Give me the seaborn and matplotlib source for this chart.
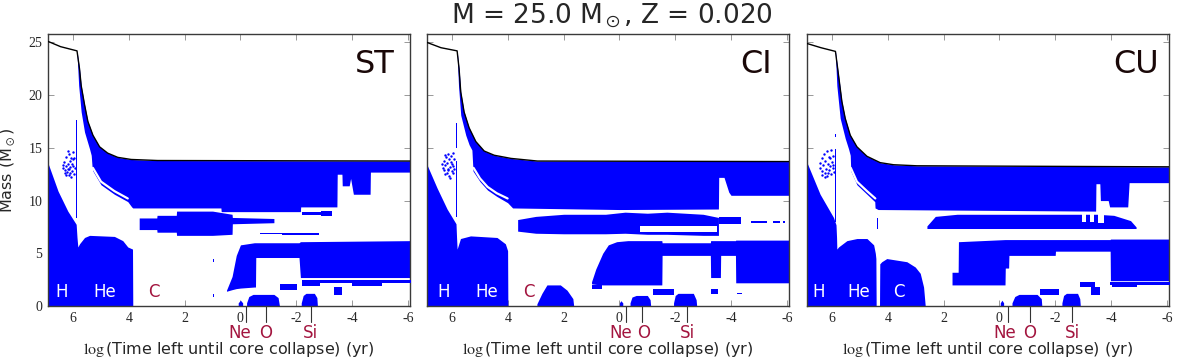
import numpy as np
import matplotlib
matplotlib.use('Agg')
import matplotlib.pyplot as plt
import seaborn as sns

BLUE = '#0000ff'
RED = '#a3153f'

# ---------------- ST model ----------------
st_surf_x = [6.9, 6.45, 5.86, 5.77, 5.71, 5.59, 5.47, 5.29, 5.05, 4.76, 4.4, 3.92, 2.97, -6.1]
st_surf_m = [25.1, 24.6, 24.2, 22.5, 20.9, 19.1, 17.5, 16.2, 15.1, 14.5, 14.1, 13.9, 13.8, 13.75]
st_env_x = [5.86, 5.8, 5.71, 5.59, 5.41, 5.35, 5.32, 5.29, 5.0, 4.52, 4.04, 3.9, 3.86, 0.7, 0.69,
            -2.15, -2.16, -3.46, -3.47, -3.64, -3.65, -3.9, -3.95, -4.05, -4.65, -4.66, -6.1]
st_env_lo = [24.0, 20.9, 18.4, 16.5, 14.9, 14.3, 13.2, 12.8, 11.5, 10.6, 9.9, 9.4, 9.3, 9.3, 8.95,
             8.95, 9.4, 9.4, 12.5, 12.5, 11.4, 11.4, 12.1, 10.6, 10.6, 12.7, 12.7]
st_gap_x = [5.29, 5.0, 4.52, 4.04]
st_gap_m = [13.1, 11.8, 10.9, 10.2]
st_core_x = [6.9, 6.54, 6.19, 5.89, 5.86, 5.83, 5.77, 5.59, 5.41, 4.52, 4.22, 4.04, 3.87, 3.86]
st_core_m = [13.55, 10.9, 9.0, 7.75, 6.5, 5.6, 5.9, 6.5, 6.7, 6.6, 6.2, 5.6, 5.4, 0.0]
st_mid_x = [3.63, 3.0, 2.99, 2.3, 2.29, 1.0, 0.3, 0.29, -1.2]
st_mid_hi = [8.35, 8.35, 8.6, 8.6, 9.0, 9.0, 8.7, 8.4, 8.3]
st_mid_lo = [7.25, 7.25, 7.0, 7.0, 6.7, 6.7, 6.8, 7.8, 7.9]
st_low_x = [0.5, 0.3, 0.15, 0.0, -0.5, -0.54, -0.55, -2.1, -2.15, -6.1]
st_low_hi = [1.5, 2.8, 4.8, 5.8, 6.0, 6.0, 6.0, 6.0, 6.1, 6.2]
st_low_lo = [1.4, 1.55, 1.65, 1.7, 1.8, 1.8, 4.6, 4.6, 2.7, 2.7]
st_ne_x, st_ne_m = [0.08, 0.0, -0.08], [0.3, 0.55, 0.3]
st_o_x = [-0.22, -0.3, -0.45, -1.2, -1.35, -1.4]
st_o_m = [0.3, 0.9, 1.1, 1.1, 0.8, 0.0]
st_si_x = [-2.18, -2.25, -2.35, -2.65, -2.74, -2.76]
st_si_m = [0.3, 1.0, 1.2, 1.2, 0.8, 0.0]
st_shell_x0 = [5.89, -2.2, -1.43, -3.34, -4.0, -2.2, -2.2, -2.9, 0.99, 0.99, -0.7, -1.5]
st_shell_x1 = [5.85, -6.1, -2.03, -3.64, -5.07, -2.86, -3.2, -3.3, 0.94, 0.94, -2.1, -2.8]
st_shell_lo = [8.3, 2.15, 1.5, 1.0, 1.9, 1.9, 8.6, 8.55, 4.2, 0.9, 6.8, 6.75]
st_shell_hi = [17.6, 2.45, 2.1, 1.8, 2.3, 2.3, 8.9, 9.0, 4.45, 1.15, 6.95, 6.9]
st_dots_x = [6.38, 6.35, 6.32, 6.3, 6.27, 6.25, 6.22, 6.2, 6.18, 6.16, 6.15, 6.12, 6.1, 6.08,
             6.06, 6.05, 6.03, 6.0, 5.99, 5.97, 5.95, 5.93, 6.24, 6.14, 6.02, 6.2, 6.28, 6.1]
st_dots_m = [13.4, 13.1, 13.7, 12.9, 13.3, 14.1, 12.7, 13.5, 13.0, 14.4, 12.4, 13.8, 13.2, 12.2,
             14.0, 13.5, 12.8, 14.6, 13.3, 12.5, 14.0, 13.1, 12.4, 13.0, 13.9, 14.7, 12.6, 12.6]
st_burn_x = [-0.2, -0.92, -2.53]       # Ne, O, Si ignition
st_burn_lab = [0.02, -0.92, -2.5]

# ---------------- CI model ----------------
ci_surf_x = [6.9, 6.4, 5.82, 5.75, 5.69, 5.57, 5.39, 5.15, 4.85, 4.49, 3.89, 2.94, -6.1]
ci_surf_m = [25.0, 24.5, 24.2, 22.5, 20.3, 18.4, 16.9, 15.6, 14.7, 14.3, 14.0, 13.75, 13.7]
ci_env_x = [5.82, 5.77, 5.69, 5.51, 5.39, 5.29, 5.25, 5.0, 4.73, 4.4, 4.01, 3.83, 0.0, -3.55,
            -3.56, -3.75, -3.92, -4.0, -6.1]
ci_env_lo = [24.0, 20.9, 18.1, 16.2, 15.3, 14.8, 12.8, 11.8, 11.0, 10.4, 9.8, 9.3, 9.15, 9.2,
             12.2, 12.2, 10.8, 10.5, 10.5]
ci_gap_x = [5.23, 5.0, 4.73, 4.4, 4.01]
ci_gap_m = [13.1, 12.1, 11.3, 10.7, 10.2]
ci_core_x = [6.9, 6.54, 6.18, 5.86, 5.84, 5.82, 5.7, 5.34, 4.39, 4.09, 4.01, 4.0]
ci_core_m = [13.4, 11.2, 9.2, 7.8, 6.5, 5.4, 6.4, 6.65, 6.5, 5.9, 5.25, 0.0]
ci_mid_x = [3.65, 3.0, 2.0, 0.5, -0.2, -1.0, -1.7, -3.0, -3.55]
ci_mid_hi = [8.2, 8.5, 8.7, 8.7, 8.9, 8.8, 8.9, 8.7, 8.4]
ci_mid_lo = [7.1, 6.9, 6.85, 6.85, 6.9, 6.8, 6.8, 6.7, 6.7]
ci_low_x = [1.0, 0.85, 0.6, 0.4, 0.1, -0.3, -1.52, -1.53, -3.26, -3.27, -3.62, -3.63, -4.16, -4.17, -6.1]
ci_low_hi = [2.3, 3.5, 5.0, 5.8, 6.1, 6.2, 6.2, 6.0, 6.0, 6.2, 6.2, 6.2, 6.2, 6.25, 6.25]
ci_low_lo = [2.1, 2.05, 2.0, 2.0, 2.0, 2.0, 2.0, 4.8, 4.8, 2.7, 2.7, 4.8, 4.8, 2.2, 2.2]
ci_c_x = [2.96, 2.78, 2.6, 2.12, 1.88, 1.67, 1.64]
ci_c_m = [0.2, 1.2, 2.0, 2.0, 1.5, 0.7, 0.0]
ci_ne_x, ci_ne_m = [0.0, -0.05, -0.12], [0.3, 0.5, 0.3]
ci_o_x = [-0.38, -0.45, -0.6, -1.0, -1.1, -1.12]
ci_o_m = [0.3, 0.85, 1.0, 1.0, 0.6, 0.0]
ci_si_x = [-1.94, -2.0, -2.1, -2.65, -2.75, -2.77]
ci_si_m = [0.3, 1.0, 1.2, 1.2, 0.6, 0.0]
ci_shell_x0 = [5.86, 5.86, 1.0, -1.2, -3.3, -4.2, -3.56, -4.7, -5.5, -5.85]
ci_shell_x1 = [5.82, 5.82, 0.63, -1.94, -3.55, -4.4, -4.35, -5.3, -5.75, -5.95]
ci_shell_lo = [8.4, 15.0, 1.65, 1.05, 1.1, 1.1, 7.8, 7.9, 7.9, 7.9]
ci_shell_hi = [13.8, 17.4, 1.95, 1.65, 1.65, 1.25, 8.4, 8.1, 8.1, 8.1]
ci_hole_x0 = [-0.75]
ci_hole_x1 = [-3.5]
ci_hole_lo = [7.0]
ci_hole_hi = [7.55]
ci_dots_x = [6.35, 6.33, 6.3, 6.28, 6.25, 6.22, 6.2, 6.18, 6.15, 6.13, 6.12, 6.1, 6.08, 6.06,
             6.05, 6.02, 6.0, 5.98, 5.97, 5.95, 5.93, 5.92, 6.24, 6.16, 6.04, 6.26]
ci_dots_m = [13.5, 13.1, 13.8, 12.9, 13.4, 14.1, 12.6, 13.6, 13.0, 14.4, 12.3, 13.9, 13.2, 12.1,
             14.2, 13.5, 12.8, 14.5, 13.3, 12.6, 13.9, 13.0, 12.5, 12.9, 13.7, 14.3]
ci_burn_x = [-0.24, -0.8, -2.44]
ci_burn_lab = [-0.03, -0.85, -2.44]

# ---------------- CU model ----------------
cu_surf_x = [6.9, 6.4, 5.88, 5.77, 5.65, 5.53, 5.35, 5.11, 4.75, 4.28, 3.8, 2.96, -6.1]
cu_surf_m = [24.9, 24.5, 24.15, 21.9, 19.4, 17.8, 16.2, 15.1, 14.2, 13.6, 13.4, 13.3, 13.2]
cu_env_x = [5.88, 5.83, 5.71, 5.53, 5.41, 5.35, 5.33, 5.11, 4.75, 4.47, 4.46, 4.35, -3.45, -3.46,
            -3.6, -3.62, -3.9, -3.95, -4.6, -4.65, -6.1]
cu_env_lo = [23.8, 20.9, 17.8, 15.9, 14.9, 14.3, 12.8, 11.5, 10.6, 9.9, 9.3, 9.15, 9.0, 11.6,
             11.6, 10.0, 10.0, 9.4, 9.4, 11.7, 11.7]
cu_gap_x = [5.33, 5.11, 4.75, 4.45]
cu_gap_m = [13.1, 11.8, 10.9, 10.2]
cu_core_x = [6.9, 6.43, 5.95, 5.86, 5.84, 5.83, 5.77, 5.47, 5.11, 4.75, 4.51, 4.45, 4.43, 4.42]
cu_core_m = [13.6, 10.6, 8.4, 7.7, 6.5, 5.4, 5.6, 6.2, 6.4, 6.4, 5.8, 5.0, 4.5, 0.0]
cu_c_x = [4.3, 4.29, 4.22, 4.04, 3.32, 3.02, 2.84, 2.72, 2.66]
cu_c_m = [0.0, 4.0, 4.2, 4.5, 4.2, 3.7, 3.1, 1.8, 0.0]
cu_mid_x = [2.6, 2.3, 1.52, 0.0, -2.0, -3.5, -4.1, -4.7, -4.9]
cu_mid_hi = [7.6, 8.5, 8.7, 8.7, 8.7, 8.7, 8.6, 8.1, 7.5]
cu_mid_lo = [7.35, 7.35, 7.35, 7.35, 7.35, 7.35, 7.35, 7.35, 7.35]
cu_low_x = [1.7, 1.48, 1.47, -0.2, -0.21, -0.33, -0.34, -2.0, -2.01, -3.97, -3.98, -6.1]
cu_low_hi = [3.2, 3.2, 6.1, 6.3, 6.3, 6.3, 6.3, 6.3, 6.3, 6.3, 6.35, 6.35]
cu_low_lo = [2.0, 2.0, 2.0, 2.0, 3.6, 3.6, 4.8, 4.8, 5.2, 5.2, 2.4, 2.4]
cu_ne_x, cu_ne_m = [-0.03, -0.09, -0.15], [0.3, 0.55, 0.3]
cu_o_x = [-0.45, -0.55, -0.7, -1.35, -1.5, -1.52]
cu_o_m = [0.3, 0.9, 1.1, 1.1, 0.7, 0.0]
cu_si_x = [-2.24, -2.3, -2.4, -2.8, -2.88, -2.9]
cu_si_m = [0.3, 1.0, 1.2, 1.2, 0.7, 0.0]
cu_shell_x0 = [5.88, 5.88, 4.38, -1.46, -2.9, -3.3, -4.04, -3.98]
cu_shell_x1 = [5.85, 5.85, 4.34, -2.12, -3.44, -3.6, -4.93, -6.1]
cu_shell_lo = [8.0, 16.0, 7.3, 1.0, 1.8, 1.0, 1.8, 2.0]
cu_shell_hi = [14.9, 16.3, 8.3, 1.6, 2.3, 1.8, 2.2, 2.25]
cu_hole_x0 = [-2.95, -3.25, -3.55]
cu_hole_x1 = [-3.1, -3.4, -3.75]
cu_hole_lo = [8.0, 8.0, 7.9]
cu_hole_hi = [8.8, 8.8, 8.8]
cu_dots_x = [6.45, 6.42, 6.38, 6.35, 6.32, 6.3, 6.27, 6.24, 6.22, 6.2, 6.17, 6.15, 6.12, 6.1,
             6.08, 6.05, 6.03, 6.0, 5.98, 5.96, 5.93, 6.36, 6.26, 6.14, 6.06, 5.95]
cu_dots_m = [13.6, 13.1, 14.0, 12.8, 13.4, 14.4, 12.6, 13.8, 13.0, 14.7, 12.3, 13.5, 14.1, 12.9,
             13.3, 14.8, 12.5, 13.7, 13.1, 14.2, 12.7, 12.4, 12.2, 12.6, 14.0, 13.4]
cu_burn_x = [-0.29, -1.08, -2.6]
cu_burn_lab = [-0.2, -1.08, -2.6]

names = ['ST', 'CI', 'CU']
burn_names = ['Ne', 'O', 'Si']

sns.set_style('ticks')
plt.rcParams['font.family'] = ['DejaVu Sans']
plt.rcParams['mathtext.fontset'] = 'stix'
plt.rcParams['axes.unicode_minus'] = False

fig = plt.figure(figsize=(11.96, 3.6), dpi=100)
lefts = [48, 427, 807]
axes = [fig.add_axes([l / 1196, 54 / 360, 362 / 1196, 272 / 360]) for l in lefts]


def dense(x, v, xs):
    x = np.asarray(x, float)
    v = np.broadcast_to(np.asarray(v, float), x.shape)
    return np.interp(xs, x[::-1], v[::-1])


def zone(ax, x, lo, hi, color=BLUE, top=None):
    xs = np.linspace(max(x), min(x), 4000)
    lo_d = dense(x, lo, xs)
    hi_d = dense(top[0], top[1], xs) if top is not None else dense(x, hi, xs)
    ax.fill_between(xs, lo_d, hi_d, color=color, lw=0, zorder=2)


def rects(ax, x0, x1, lo, hi, color=BLUE):
    for a, b, c, d in zip(x0, x1, lo, hi):
        ax.fill_between([a, b], [c, c], [d, d], color=color, lw=0, zorder=3)


def draw(ax, surf_x, surf_m, env_x, env_lo, gap_x, gap_m, core_x, core_m,
         mid_x, mid_lo, mid_hi, low_x, low_lo, low_hi, blobs, shells, dots, holes=None):
    zone(ax, env_x, env_lo, None, top=(surf_x, surf_m))
    ax.plot(gap_x, gap_m, color='white', lw=1.6, zorder=3, solid_capstyle='round')
    zone(ax, core_x, 0, core_m)
    zone(ax, mid_x, mid_lo, mid_hi)
    zone(ax, low_x, low_lo, low_hi)
    for bx, bm in blobs:
        zone(ax, bx, 0, bm)
    rects(ax, *shells)
    if holes is not None:
        rects(ax, *holes, color='white')
    sns.scatterplot(x=dots[0], y=dots[1], ax=ax, color=BLUE, s=3, marker='o',
                    linewidth=0, zorder=3)
    sns.lineplot(x=surf_x, y=surf_m, ax=ax, color='black', lw=1.0, sort=False,
                 estimator=None, zorder=4)


draw(axes[0], st_surf_x, st_surf_m, st_env_x, st_env_lo, st_gap_x, st_gap_m, st_core_x, st_core_m,
     st_mid_x, st_mid_lo, st_mid_hi, st_low_x, st_low_lo, st_low_hi,
     [(st_ne_x, st_ne_m), (st_o_x, st_o_m), (st_si_x, st_si_m)],
     (st_shell_x0, st_shell_x1, st_shell_lo, st_shell_hi), (st_dots_x, st_dots_m))
draw(axes[1], ci_surf_x, ci_surf_m, ci_env_x, ci_env_lo, ci_gap_x, ci_gap_m, ci_core_x, ci_core_m,
     ci_mid_x, ci_mid_lo, ci_mid_hi, ci_low_x, ci_low_lo, ci_low_hi,
     [(ci_c_x, ci_c_m), (ci_ne_x, ci_ne_m), (ci_o_x, ci_o_m), (ci_si_x, ci_si_m)],
     (ci_shell_x0, ci_shell_x1, ci_shell_lo, ci_shell_hi), (ci_dots_x, ci_dots_m),
     (ci_hole_x0, ci_hole_x1, ci_hole_lo, ci_hole_hi))
draw(axes[2], cu_surf_x, cu_surf_m, cu_env_x, cu_env_lo, cu_gap_x, cu_gap_m, cu_core_x, cu_core_m,
     cu_mid_x, cu_mid_lo, cu_mid_hi, cu_low_x, cu_low_lo, cu_low_hi,
     [(cu_c_x, cu_c_m), (cu_ne_x, cu_ne_m), (cu_o_x, cu_o_m), (cu_si_x, cu_si_m)],
     (cu_shell_x0, cu_shell_x1, cu_shell_lo, cu_shell_hi), (cu_dots_x, cu_dots_m),
     (cu_hole_x0, cu_hole_x1, cu_hole_lo, cu_hole_hi))

# core burning labels: H, He, C
core_lab_x = [(6.4, 4.86, 3.1), (6.3, 4.77, 3.25), (6.47, 5.04, 3.6)]
c_colors = [RED, RED, 'white']
burn_x = [st_burn_x, ci_burn_x, cu_burn_x]
burn_lab = [st_burn_lab, ci_burn_lab, cu_burn_lab]
name_x = [0.958, 0.952, 0.972]

for i, ax in enumerate(axes):
    ax.set_xlim(6.9, -6.08)
    ax.set_ylim(0, 25.8)
    ax.set_xticks([6, 4, 2, 0, -2, -4, -6])
    ax.set_yticks([0, 5, 10, 15, 20, 25])
    ax.tick_params(direction='in', length=4, width=0.6, color='#888888', top=True, right=True,
                   labelsize=10, pad=4)
    for lab in ax.get_xticklabels() + ax.get_yticklabels():
        lab.set_fontfamily('Liberation Serif')
    if i > 0:
        ax.set_yticklabels([])
    for s in ax.spines.values():
        s.set_color('#3a3a3a')
        s.set_linewidth(1.0)
        s.set_visible(True)
    hx, hex_, cx = core_lab_x[i]
    ax.text(hx, 1.35, 'H', color='white', fontsize=12, ha='center', va='center', zorder=5)
    ax.text(hex_, 1.35, 'He', color='white', fontsize=12, ha='center', va='center', zorder=5)
    ax.text(cx, 1.35, 'C', color=c_colors[i], fontsize=12, ha='center', va='center', zorder=5)
    ax.text(name_x[i], 0.945, names[i], transform=ax.transAxes, ha='right', va='top',
            fontsize=23, color='#1a0808')
    tr = ax.get_xaxis_transform()
    for bx, lx, bn in zip(burn_x[i], burn_lab[i], burn_names):
        ax.plot([bx, bx], [0, -0.058], transform=tr, color='#333333', lw=0.8, clip_on=False)
        ax.text(lx, -0.1, bn, transform=tr, ha='center', va='center', fontsize=12, color=RED)
    ax.set_xlabel(r'$\log$(Time left until core collapse) (yr)', fontsize=11.5)
    ax.xaxis.set_label_coords(0.5, -0.125)
    ax.set_ylabel('')

axes[0].set_ylabel(r'Mass (M$_\odot$)', fontsize=11.5)
axes[0].yaxis.set_label_coords(-0.086, 0.5)

fig.text(612 / 1196, 1 - 16 / 360, r'M = 25.0 M$_\odot$, Z = 0.020', ha='center', va='center',
         fontsize=19)

fig.savefig('out.png', dpi=100)
